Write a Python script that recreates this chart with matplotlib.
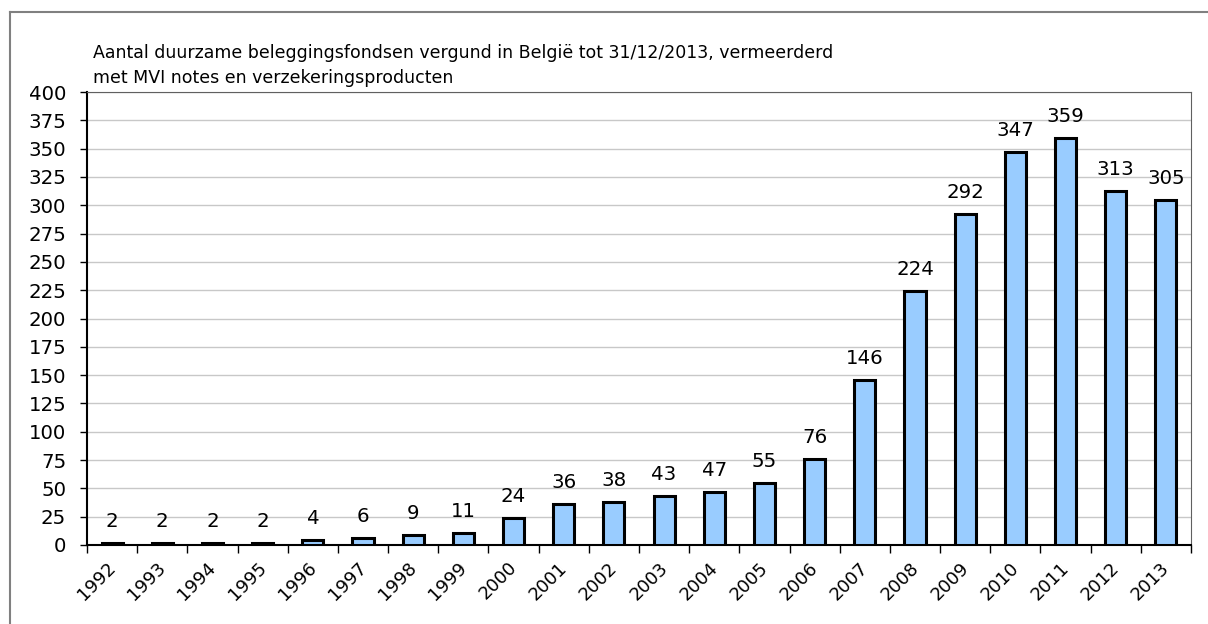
import matplotlib
matplotlib.use("Agg")
from matplotlib import pyplot as plt
from matplotlib.lines import Line2D
import numpy as np

years = [str(y) for y in range(1992, 2014)]
counts = [2, 2, 2, 2, 4, 6, 9, 11, 24, 36, 38, 43, 47, 55, 76, 146, 224, 292, 347, 359, 313, 305]
title1 = "Aantal duurzame beleggingsfondsen vergund in België tot 31/12/2013, vermeerderd"
title2 = "met MVI notes en verzekeringsproducten"

plt.rcParams['font.family'] = ['DejaVu Sans']

W, H = 1208, 624
fig = plt.figure(figsize=(W/100, H/100), dpi=100)
ax = fig.add_axes([87/W, 1 - 545/H, (1191-87)/W, (545-92)/H])

x = np.arange(len(years))
ax.bar(x, counts, width=0.42, color='#99ccff', edgecolor='black', linewidth=2.2, zorder=3)
for xi, c in zip(x, counts):
    ax.annotate(str(c), (xi, c), xytext=(0, 11.5), textcoords='offset points',
                ha='center', va='baseline', fontsize=14.2)

ax.set_xlim(-0.5, len(years) - 0.5)
ax.set_ylim(0, 400)
ax.set_yticks(np.arange(0, 401, 25))
ax.tick_params(axis='y', labelsize=14.2, length=5, width=1, pad=10)
ax.yaxis.grid(True, color='#c8c8c8', linewidth=1, zorder=0)

ax.set_xticks(np.arange(-0.5, len(years), 1.0))
ax.set_xticklabels([])
ax.tick_params(axis='x', length=6, width=1)
for xi, y in zip(x, years):
    ax.text(xi - 0.11, -12, y, rotation=45, ha='right', va='top', fontsize=13,
            rotation_mode='anchor')

for s in ['top', 'right']:
    ax.spines[s].set_color('#606060')
for s in ['left', 'bottom']:
    ax.spines[s].set_color('black')
    ax.spines[s].set_linewidth(1.5)

fig.text(93/W, 1 - 58/H, title1, ha='left', va='baseline', fontsize=12.5)
fig.text(93/W, 1 - 83/H, title2, ha='left', va='baseline', fontsize=12.5)

# outer chart frame (only top and left edges fall inside the image)
fig.lines.append(Line2D([10/W, 1], [1 - 12/H, 1 - 12/H], transform=fig.transFigure,
                        color='#808080', linewidth=1.5))
fig.lines.append(Line2D([10/W, 10/W], [0, 1 - 12/H], transform=fig.transFigure,
                        color='#808080', linewidth=1.5))

fig.savefig("out.png", dpi=100)
